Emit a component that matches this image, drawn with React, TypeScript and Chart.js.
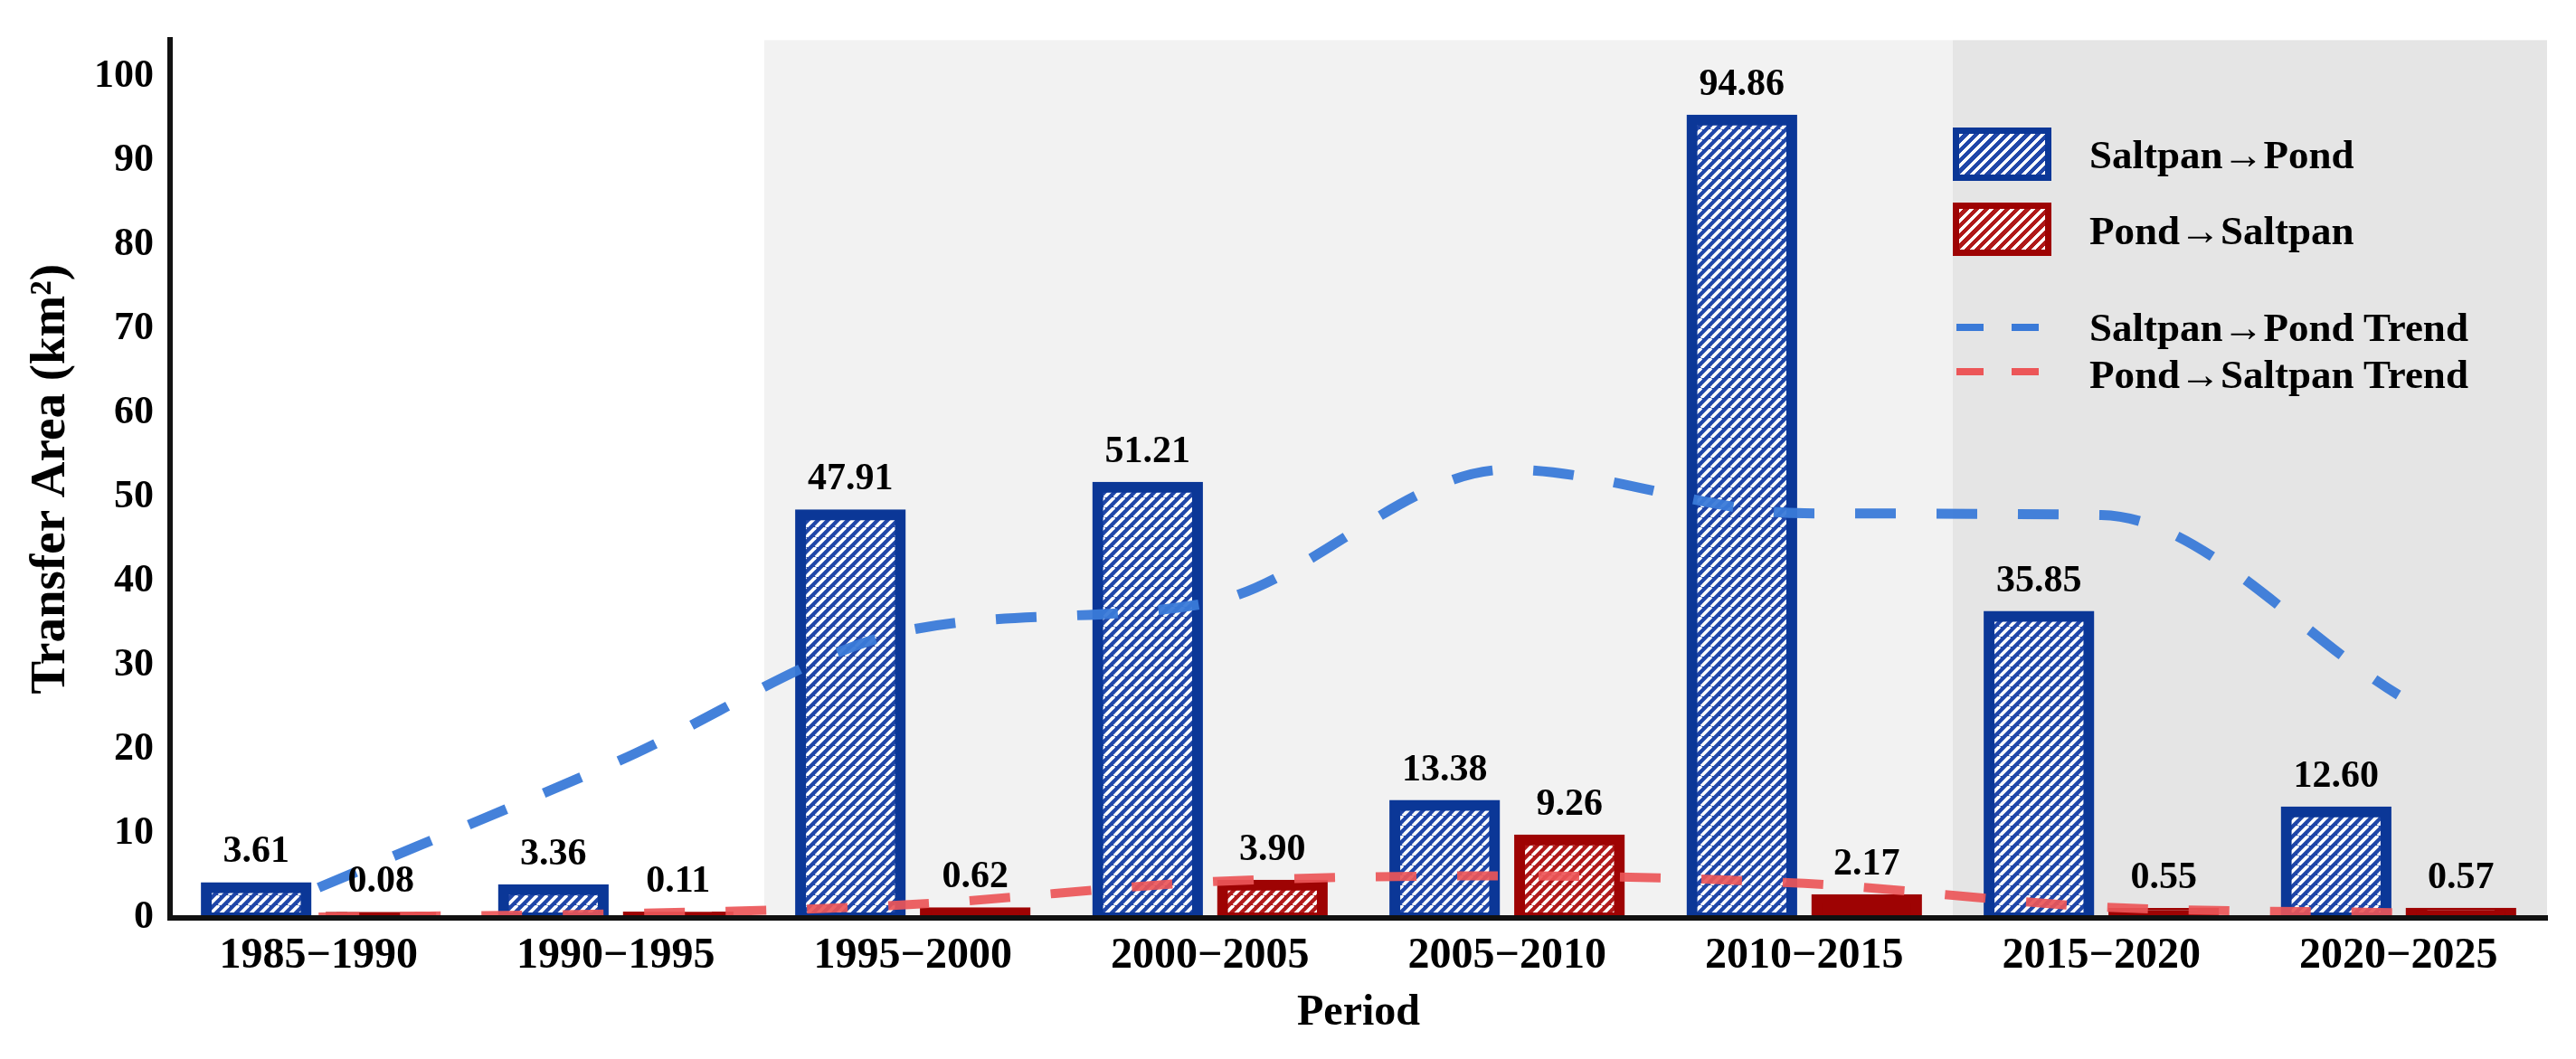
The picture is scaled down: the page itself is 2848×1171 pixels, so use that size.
import { useEffect, useRef } from 'react'
import { Chart, registerables } from 'chart.js'

Chart.register(...registerables)

const FONT = "'Liberation Serif', 'Times New Roman', serif"

const periods = ['1985−1990', '1990−1995', '1995−2000', '2000−2005', '2005−2010', '2010−2015', '2015−2020', '2020−2025']
const saltpanToPond = [3.61, 3.36, 47.91, 51.21, 13.38, 94.86, 35.85, 12.6]
const pondToSaltpan = [0.08, 0.11, 0.62, 3.9, 9.26, 2.17, 0.55, 0.57]
const saltpanToPondTrend = [3.6, 18.5, 34.3, 37.5, 53.3, 48.1, 47.9, 26.5]
const pondToSaltpanTrend = [0.1, 0.5, 1.6, 4.3, 5.0, 4.1, 1.3, 0.6]
const yTicks = [0, 10, 20, 30, 40, 50, 60, 70, 80, 90, 100]
// first period of each shaded phase
const phaseStarts = ['1995−2000', '2015−2020']

const BLUE_EDGE = '#0b3797'
const BLUE_HATCH = '#1f46a8'
const RED_EDGE = '#9e0303'
const RED_HATCH = '#b01818'

function hatch(stripe: string) {
  const s = 11
  const c = document.createElement('canvas')
  c.width = s
  c.height = s
  const g = c.getContext('2d')!
  g.fillStyle = stripe
  g.fillRect(0, 0, s, s)
  g.strokeStyle = '#ffffff'
  g.lineWidth = 3.6
  for (const k of [-1, 0, 1]) {
    g.beginPath()
    g.moveTo(k * s, s)
    g.lineTo(k * s + s, 0)
    g.stroke()
  }
  return g.createPattern(c, 'repeat')!
}

const phaseShading = {
  id: 'phaseShading',
  beforeDatasetsDraw(chart: Chart) {
    const { ctx, chartArea } = chart
    const x = chart.scales.x
    const a = x.getPixelForValue(periods.indexOf(phaseStarts[0]) - 0.5)
    const b = x.getPixelForValue(periods.indexOf(phaseStarts[1]) - 0.5)
    ctx.save()
    ctx.fillStyle = '#f2f2f2'
    ctx.fillRect(a, chartArea.top, b - a, chartArea.bottom - chartArea.top)
    ctx.fillStyle = '#e5e5e5'
    ctx.fillRect(b, chartArea.top, chartArea.right - b, chartArea.bottom - chartArea.top)
    ctx.restore()
  },
}

const valueLabels = {
  id: 'valueLabels',
  afterDatasetsDraw(chart: Chart) {
    const { ctx } = chart
    ctx.save()
    ctx.font = `bold 42px ${FONT}`
    ctx.fillStyle = '#000'
    ctx.textAlign = 'center'
    ctx.textBaseline = 'alphabetic'
    ;[0, 1].forEach((di) => {
      const meta = chart.getDatasetMeta(di)
      const vals = chart.data.datasets[di].data as number[]
      meta.data.forEach((el: any, i) => {
        ctx.fillText(vals[i].toFixed(2), el.x, el.y - 28)
      })
    })
    ctx.restore()
  },
}

export default function App() {
  const ref = useRef<HTMLCanvasElement>(null)
  const chart = useRef<Chart | null>(null)

  useEffect(() => {
    if (!ref.current) return
    chart.current?.destroy()
    Chart.defaults.font.family = FONT
    const bluePat = hatch(BLUE_HATCH)
    const redPat = hatch(RED_HATCH)

    chart.current = new Chart(ref.current, {
      type: 'bar',
      data: {
        labels: periods,
        datasets: [
          {
            label: 'Saltpan→Pond',
            data: saltpanToPond,
            backgroundColor: (c: any) => (typeof c.raw === 'number' && c.raw < 2.5 ? BLUE_EDGE : bluePat),
            borderColor: BLUE_EDGE,
            borderWidth: 12,
            borderSkipped: false,
            inflateAmount: 6,
            barPercentage: 0.8,
            categoryPercentage: 0.84,
            order: 1,
          },
          {
            label: 'Pond→Saltpan',
            data: pondToSaltpan,
            backgroundColor: (c: any) => (typeof c.raw === 'number' && c.raw < 2.5 ? RED_EDGE : redPat),
            borderColor: RED_EDGE,
            borderWidth: 12,
            borderSkipped: false,
            inflateAmount: 6,
            barPercentage: 0.8,
            categoryPercentage: 0.84,
            order: 1,
          },
          {
            type: 'line',
            label: 'Saltpan→Pond Trend',
            data: saltpanToPondTrend,
            borderColor: 'rgba(58,122,216,0.95)',
            borderWidth: 11,
            borderDash: [45, 45],
            borderCapStyle: 'butt',
            pointRadius: 0,
            cubicInterpolationMode: 'monotone',
            fill: false,
            order: 0,
          },
          {
            type: 'line',
            label: 'Pond→Saltpan Trend',
            data: pondToSaltpanTrend,
            borderColor: 'rgba(236,86,88,0.92)',
            borderWidth: 10,
            borderDash: [45, 45],
            borderCapStyle: 'butt',
            pointRadius: 0,
            cubicInterpolationMode: 'monotone',
            fill: false,
            order: 0,
          },
        ] as any,
      },
      options: {
        animation: false,
        responsive: true,
        maintainAspectRatio: false,
        layout: { padding: { top: 33, right: 32, left: 0, bottom: 0 } },
        plugins: { legend: { display: false }, tooltip: { enabled: false } },
        scales: {
          x: {
            offset: true,
            grid: { display: false, drawTicks: false },
            border: { display: true, color: '#111', width: 6, z: 1 },
            ticks: { color: '#000', font: { size: 48, weight: 'bold' }, padding: 14, maxRotation: 0, autoSkip: false },
            title: { display: true, text: 'Period', color: '#000', font: { size: 48, weight: 'bold' }, padding: { top: 0, bottom: 22 } },
            afterFit: (s: any) => { s.height = 156 },
          },
          y: {
            min: 0,
            max: 104.35,
            grid: { display: false, drawTicks: false },
            border: { display: true, color: '#111', width: 6 },
            ticks: { color: '#000', font: { size: 44, weight: 'bold' }, padding: 18, includeBounds: false },
            afterBuildTicks: (s: any) => { s.ticks = yTicks.map((v) => ({ value: v })) },
            title: { display: true, text: 'Transfer Area (km²)', color: '#000', font: { size: 55, weight: 'bold' }, padding: { top: 24, bottom: 0 } },
            afterFit: (s: any) => { s.width = 188 },
          },
        },
      },
      plugins: [phaseShading, valueLabels],
    })
    return () => chart.current?.destroy()
  }, [])

  const text: React.CSSProperties = {
    position: 'absolute', left: 2310, height: 50, lineHeight: '50px',
    fontSize: 45, fontWeight: 'bold', whiteSpace: 'nowrap', color: '#000',
  }
  const box = (edge: string, stripe: string, top: number): React.CSSProperties => ({
    position: 'absolute', left: 2159, top, width: 109, height: 59, boxSizing: 'border-box',
    border: `7px solid ${edge}`,
    background: `repeating-linear-gradient(135deg, #fff 0 3.5px, ${stripe} 3.5px 8px)`,
  })
  const dash = (color: string, left: number, top: number): React.CSSProperties => ({
    position: 'absolute', left, top, width: 30, height: 8, background: color,
  })

  return (
    <div style={{ position: 'absolute', left: 0, top: 0, width: 2848, height: 1171, background: '#fff', fontFamily: FONT }}>
      <canvas ref={ref} role="img" aria-label="Transfer area between saltpan and pond by period" />
      <div style={box(BLUE_EDGE, BLUE_HATCH, 141)} />
      <div style={{ ...text, top: 146 }}>Saltpan→Pond</div>
      <div style={box(RED_EDGE, RED_HATCH, 224)} />
      <div style={{ ...text, top: 230 }}>Pond→Saltpan</div>
      <div style={dash('#3a7ad8', 2163, 358)} />
      <div style={dash('#3a7ad8', 2224, 358)} />
      <div style={{ ...text, top: 337 }}>Saltpan→Pond Trend</div>
      <div style={dash('#ec5658', 2163, 407)} />
      <div style={dash('#ec5658', 2224, 407)} />
      <div style={{ ...text, top: 389 }}>Pond→Saltpan Trend</div>
    </div>
  )
}
